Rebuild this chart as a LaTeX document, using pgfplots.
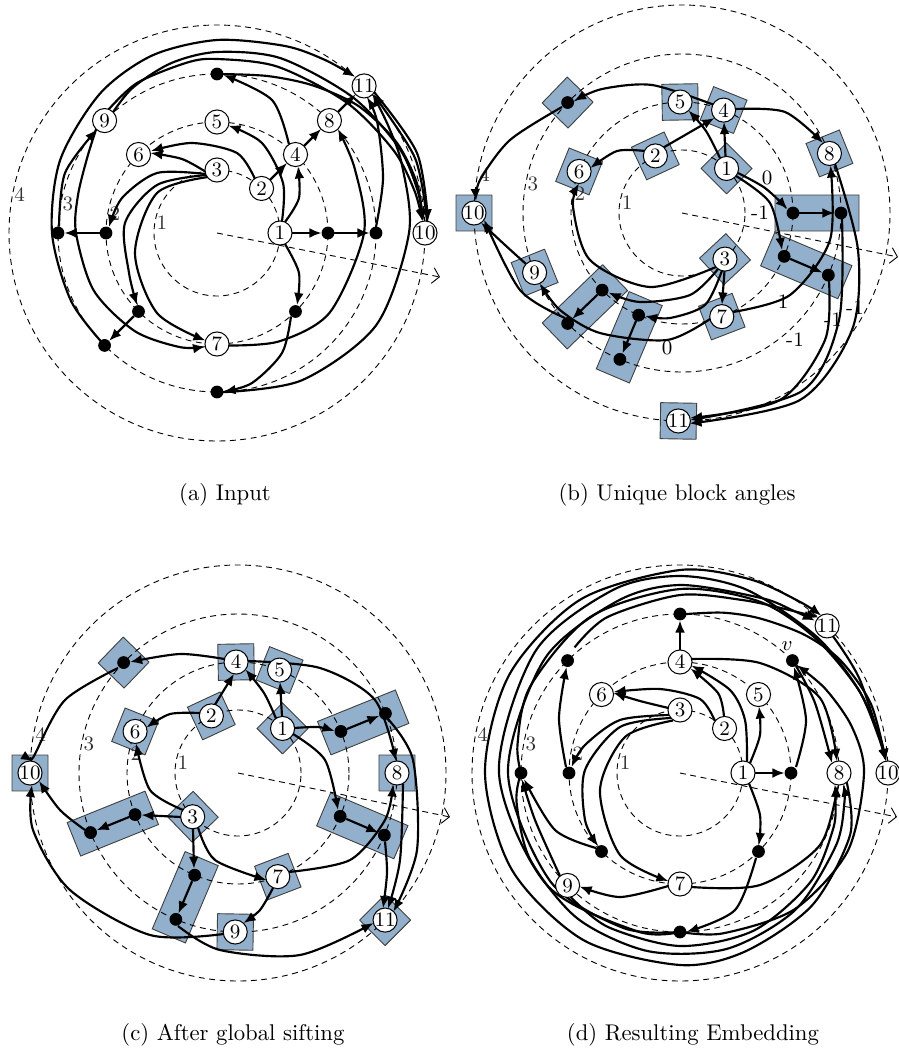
\documentclass[border=0pt]{standalone}
\usepackage{pgfplots}
\pgfplotsset{compat=1.18}
\usetikzlibrary{arrows.meta}
\definecolor{boxblue}{RGB}{146,176,203}
\tikzset{
  lbl/.style={font=\small, text=black!80, inner sep=0.5pt},
  elbl/.style={font=\small, inner sep=0.5pt},
  ring/.style={black, line width=0.4pt, dash pattern=on 2.6pt off 2pt},
}
\pgfplotsset{
  panel/.style={hide axis, x=0.44pt, y=0.44pt, clip=false, anchor=south west, enlargelimits=false},
  e/.style={black, smooth, line width=0.95pt, mark=none, -{Latex[length=5.3pt,width=4.3pt]}},
  ep/.style={e, data cs=polar},
  blk/.style={fill=boxblue, draw=black!75, line width=0.4pt, mark=none, data cs=polar},
  dots/.style={only marks, mark=*, mark size=2.6pt, black, data cs=polar},
  nds/.style={only marks, mark=*, mark size=5.3pt, mark options={draw=black, fill=white, line width=0.45pt}, data cs=polar, nodes near coords, point meta=explicit symbolic, every node near coord/.append style={anchor=center, inner sep=0pt, font=\small, text=black}},
}
\newcommand{\rings}[2]{%
  \draw[ring] (axis cs:0,0) circle[radius=63];
  \draw[ring] (axis cs:0,0) circle[radius=111];
  \draw[ring] (axis cs:0,0) circle[radius=159];
  \draw[ring] (axis cs:0,0) circle[radius=208];
  \addplot[ring, mark=none, -{Straight Barb[length=3pt,width=7pt]}] coordinates {(0,0) (#1,#2)};
  \node[lbl] at (axis cs:-55,10.7) {1};
  \node[lbl] at (axis cs:-102.1,19.8) {2};
  \node[lbl] at (axis cs:-149.2,29) {3};
  \node[lbl] at (axis cs:-197.3,38.4) {4};
}
\begin{document}
\begin{tikzpicture}
\useasboundingbox (0,0) rectangle (395.56pt,-463.32pt);

% ================= (a) =================
\begin{axis}[panel, at={(0pt,-206.8pt)}, xmin=-217, xmax=225, ymin=-237, ymax=233]
\rings{223}{-44}
\addplot[e] coordinates {(75,0) (104.5,0)};
\addplot[e] coordinates {(117,0) (152.5,0)};
\addplot[e] coordinates {(159,6) (166,55) (160,112) (150,135.5)};
\addplot[e] coordinates {(68,11) (82,35) (81,66.6)};
\addplot[e] coordinates {(68,-11) (82,-40) (80,-72)};
\addplot[e] coordinates {(65,11.8) (66,50) (45,90) (11.5,107.5)};
\addplot[e] coordinates {(53,53) (70,70)};
\addplot[e] coordinates {(38,54) (20,80) (-25,90) (-66,82)};
\addplot[e] coordinates {(-11,61) (-35,74) (-66.5,80)};
\addplot[e] coordinates {(72,88.5) (55,133) (6.5,158)};
\addplot[e] coordinates {(87,87) (104,104)};
\addplot[e] coordinates {(121,121) (138.6,138.6)};
\addplot[e] coordinates {(-11.5,59) (-60,60) (-95,35) (-108,6)};
\addplot[e] coordinates {(-11,58) (-60,48) (-92,10) (-88,-40) (-80,-72)};
\addplot[e] coordinates {(-9,56) (-60,40) (-82,-20) (-60,-80) (-11.5,-107.5)};
\addplot[e] coordinates {(-117,0) (-152.5,0)};
\addplot[e] coordinates {(-83,-83) (-107.8,-107.8)};
\addplot[e] coordinates {(-158,6.5) (-152,60) (-120,103.5)};
\addplot[ep] coordinates {(225,159) (205,161) (180,165) (155,173) (130,182) (110,189) (90,193) (70,199) (58,204) (48.5,208.5)};
\addplot[ep] coordinates {(139.3,159.4) (150,150) (165,144) (180,141) (205,136) (230,128) (252,120) (264,114.1)};
\addplot[ep] coordinates {(130.7,159.4) (120,168) (105,176) (90,181) (70,186) (45,192) (25,201) (12,205) (3.3,206.5)};
\addplot[ep] coordinates {(131.5,164.3) (118,170) (100,173) (90,174) (70,177) (45,184) (25,195) (12,202) (3.2,205.8)};
\addplot[ep] coordinates {(88,159) (72,165) (57,176) (42,190) (27,201) (14,206) (3.3,206.3)};
\addplot[ep] coordinates {(-88,159.3) (-60,170) (-30,184) (0,192) (20,197) (32,202) (41.7,208.4)};
\addplot[e] coordinates {(210,11.8) (198,75) (156,139)};
\addplot[e] coordinates {(157,141) (200,80) (211,11.6)};
\addplot[ep] coordinates {(-84,113.1) (-60,125) (-35,138) (0,147) (25,152) (40.7,159.4)};
\addplot[e] coordinates {(74,-83.5) (65,-120) (35,-150) (6.5,-158.5)};
\addplot[dots] coordinates {(90,159) (0,111) (0,159) (180,111) (180,159) (225,111) (225,159) (315,111) (270,159)};
\addplot[nds] table[x=a,y=r,meta=l] {
a r l
0 63 1
45 63 2
90 63 3
45 111 4
90 111 5
135 111 6
270 111 7
45 159 8
135 159 9
0 208 10
45 208 11
};
\end{axis}

% ================= (b) =================
\begin{axis}[panel, at={(198pt,-206.8pt)}, xmin=-232, xmax=217, ymin=-257, ymax=213]
\addplot[blk] coordinates {(23.2,48.47) (66.8,48.47) (57.53,82.98) (32.47,82.98) (23.2,48.47)};
\addplot[blk] coordinates {(93.2,48.47) (136.8,48.47) (127.53,82.98) (102.47,82.98) (93.2,48.47)};
\addplot[blk] coordinates {(-68.8,48.47) (-25.2,48.47) (-34.47,82.98) (-59.53,82.98) (-68.8,48.47)};
\addplot[blk] coordinates {(57.05,94.73) (78.95,94.73) (75.94,130.25) (60.06,130.25) (57.05,94.73)};
\addplot[blk] coordinates {(80.05,94.73) (101.95,94.73) (98.94,130.25) (83.06,130.25) (80.05,94.73)};
\addplot[blk] coordinates {(147.05,94.73) (168.95,94.73) (165.94,130.25) (150.06,130.25) (147.05,94.73)};
\addplot[blk] coordinates {(-79.95,94.73) (-58.05,94.73) (-61.06,130.25) (-76.94,130.25) (-79.95,94.73)};
\addplot[blk] coordinates {(14.73,142.14) (29.27,142.14) (27.81,177.91) (16.19,177.91) (14.73,142.14)};
\addplot[blk] coordinates {(194.73,142.14) (209.27,142.14) (207.81,177.91) (196.19,177.91) (194.73,142.14)};
\addplot[blk] coordinates {(174.59,190.85) (185.41,190.85) (184.55,226.72) (175.45,226.72) (174.59,190.85)};
\addplot[blk] coordinates {(263.59,190.85) (274.41,190.85) (273.55,226.72) (264.45,226.72) (263.59,190.85)};
\addplot[blk] coordinates {(128.73,142.14) (143.27,142.14) (141.81,177.91) (130.19,177.91) (128.73,142.14)};
\addplot[blk] coordinates {(-10.95,94.73) (10.95,94.73) (5.81,177.91) (-5.81,177.91) (-10.95,94.73)};
\addplot[blk] coordinates {(-33.95,94.73) (-12.05,94.73) (-17.19,177.91) (-28.81,177.91) (-33.95,94.73)};
\addplot[blk] coordinates {(213.05,94.73) (234.95,94.73) (229.81,177.91) (218.19,177.91) (213.05,94.73)};
\addplot[blk] coordinates {(236.05,94.73) (257.95,94.73) (252.81,177.91) (241.19,177.91) (236.05,94.73)};
\rings{216}{-44}
\addplot[e] coordinates {(43.5,56.5) (42,91)};
\addplot[e] coordinates {(38,55) (24,82) (6.5,102.5)};
\addplot[e] coordinates {(-18.5,65.5) (32.5,95)};
\addplot[e] coordinates {(-37,62) (-65,62) (-91.5,45)};
\addplot[e] coordinates {(31,108.5) (-30,128) (-80,124) (-108,112)};
\addplot[e] coordinates {(53.5,104) (103,101) (141,70)};
\addplot[e] coordinates {(56,40) (83,25) (105.5,4)};
\addplot[e] coordinates {(54,37) (88,10) (100,-37)};
\addplot[e] coordinates {(117,0) (152.5,0)};
\addplot[e] coordinates {(108.2,-45.9) (140.4,-59.6)};
\addplot[e] coordinates {(160,-6) (157,-107) (120,-178) (8.3,-207)};
\addplot[e] coordinates {(153,49) (176,-37) (170,-117) (118,-187) (7.5,-210.5)};
\addplot[e] coordinates {(147,-68) (143,-127) (98,-187) (8,-205)};
\addplot[e] coordinates {(51,-99) (108,-82) (148,-27) (148.5,47.5)};
\addplot[e] coordinates {(42.5,-58) (40,-91.5)};
\addplot[e] coordinates {(34,-54) (-32,-74) (-92,-47) (-109,6) (-103,29.6)};
\addplot[e] coordinates {(36,-56) (8,-82) (-42,-89) (-73.5,-79.5)};
\addplot[e] coordinates {(40,-57.5) (23,-92) (-12,-105) (-37,-103)};
\addplot[e] coordinates {(-84.5,-81.7) (-109.7,-105.8)};
\addplot[e] coordinates {(-46,-108) (-59.5,-140.4)};
\addplot[e] coordinates {(28,-106) (-15,-127) (-82,-120) (-122,-97) (-142,-70.5)};
\addplot[e] coordinates {(-117,-105) (-162,-77) (-198,-6.6)};
\addplot[e] coordinates {(-156,-51) (-177,-32) (-201,-9.6)};
\addplot[e] coordinates {(-120,106) (-172,73) (-202,33) (-206,12)};
\addplot[dots] coordinates {(136,159) (0,111) (0,159) (-23,111) (-23,159) (224,111) (224,159) (247,111) (247,159)};
\addplot[nds] table[x=a,y=r,meta=l] {
a r l
45 63 1
115 63 2
-47 63 3
68 111 4
91 111 5
158 111 6
-69 111 7
22 159 8
202 159 9
180 208 10
269 208 11
};
\node[elbl] at (axis cs:85,35) {0};
\node[elbl] at (axis cs:78,0) {-1};
\node[elbl] at (axis cs:101,-89) {1};
\node[elbl] at (axis cs:-15,-135) {0};
\node[elbl] at (axis cs:151,-107) {-1};
\node[elbl] at (axis cs:173,-95) {-1};
\node[elbl] at (axis cs:113,-127) {-1};
\end{axis}

% ================= (c) =================
\begin{axis}[panel, at={(0pt,-440pt)}, xmin=-238, xmax=212, ymin=-227, ymax=233]
\addplot[blk] coordinates {(23.2,48.47) (66.8,48.47) (57.53,82.98) (32.47,82.98) (23.2,48.47)};
\addplot[blk] coordinates {(93.2,48.47) (136.8,48.47) (127.53,82.98) (102.47,82.98) (93.2,48.47)};
\addplot[blk] coordinates {(202.2,48.47) (245.8,48.47) (236.53,82.98) (211.47,82.98) (202.2,48.47)};
\addplot[blk] coordinates {(80.05,94.73) (101.95,94.73) (98.94,130.25) (83.06,130.25) (80.05,94.73)};
\addplot[blk] coordinates {(57.05,94.73) (78.95,94.73) (75.94,130.25) (60.06,130.25) (57.05,94.73)};
\addplot[blk] coordinates {(147.05,94.73) (168.95,94.73) (165.94,130.25) (150.06,130.25) (147.05,94.73)};
\addplot[blk] coordinates {(-79.95,94.73) (-58.05,94.73) (-61.06,130.25) (-76.94,130.25) (-79.95,94.73)};
\addplot[blk] coordinates {(-7.27,142.14) (7.27,142.14) (5.81,177.91) (-5.81,177.91) (-7.27,142.14)};
\addplot[blk] coordinates {(261.73,142.14) (276.27,142.14) (274.81,177.91) (263.19,177.91) (261.73,142.14)};
\addplot[blk] coordinates {(174.59,190.85) (185.41,190.85) (184.55,226.72) (175.45,226.72) (174.59,190.85)};
\addplot[blk] coordinates {(-50.41,190.85) (-39.59,190.85) (-40.45,226.72) (-49.55,226.72) (-50.41,190.85)};
\addplot[blk] coordinates {(128.73,142.14) (143.27,142.14) (141.81,177.91) (130.19,177.91) (128.73,142.14)};
\addplot[blk] coordinates {(11.05,94.73) (32.95,94.73) (27.81,177.91) (16.19,177.91) (11.05,94.73)};
\addplot[blk] coordinates {(-33.95,94.73) (-12.05,94.73) (-17.19,177.91) (-28.81,177.91) (-33.95,94.73)};
\addplot[blk] coordinates {(191.05,94.73) (212.95,94.73) (207.81,177.91) (196.19,177.91) (191.05,94.73)};
\addplot[blk] coordinates {(236.05,94.73) (257.95,94.73) (252.81,177.91) (241.19,177.91) (236.05,94.73)};
\rings{212}{-44}
\addplot[e] coordinates {(44,56.5) (42,91)};
\addplot[e] coordinates {(38,54.5) (26,80) (7.5,103.5)};
\addplot[e] coordinates {(-23,68.5) (-4,99.2)};
\addplot[e] coordinates {(-38,60) (-68,59) (-91.5,45.5)};
\addplot[e] coordinates {(-13.5,114) (-58,119) (-107.9,111)};
\addplot[e] coordinates {(9.5,112) (82,105) (137,73) (158,12)};
\addplot[e] coordinates {(56.5,45) (80,46) (96.5,42)};
\addplot[e] coordinates {(108.9,44) (141.4,57.2)};
\addplot[e] coordinates {(55,39) (87,13) (100,-37)};
\addplot[e] coordinates {(108.2,-45.9) (140.4,-59.6)};
\addplot[e] coordinates {(51,-99) (112,-87) (147,-47) (155,-11.5)};
\addplot[e] coordinates {(-40,-54.5) (-23,-87) (28.5,-107)};
\addplot[e] coordinates {(-55,-37) (-88,-17) (-102,29.6)};
\addplot[e] coordinates {(-57,-44) (-96.5,-42)};
\addplot[e] coordinates {(-108.9,-44) (-141.4,-57.2)};
\addplot[e] coordinates {(-45,-55.8) (-44,-95.7)};
\addplot[e] coordinates {(-45.9,-108.2) (-59.6,-140.4)};
\addplot[e] coordinates {(35,-115) (22,-137) (5.5,-150)};
\addplot[e] coordinates {(-153,-57) (-178,-37) (-199,-8)};
\addplot[e] coordinates {(-14.5,-161) (-88,-162) (-168,-117) (-205,-57) (-206,-12)};
\addplot[e] coordinates {(-60,-153) (-18,-177) (62,-182) (135.5,-150)};
\addplot[e] coordinates {(-120,105) (-173,73) (-202,21) (-205,11.6)};
\addplot[e] coordinates {(150,54) (175,13) (179,-77) (155.5,-138.5)};
\addplot[e] coordinates {(165,-10.5) (162,-87) (150,-135.5)};
\addplot[e] coordinates {(147,-68.5) (149,-100) (145,-135.2)};
\addplot[dots] coordinates {(136,159) (22,111) (22,159) (-23,111) (-23,159) (202,111) (202,159) (247,111) (247,159)};
\addplot[nds] table[x=a,y=r,meta=l] {
a r l
45 63 1
115 63 2
224 63 3
91 111 4
68 111 5
158 111 6
-69 111 7
0 159 8
269 159 9
180 208 10
-45 208 11
};
\end{axis}

% ================= (d) =================
\begin{axis}[panel, at={(198pt,-440pt)}, xmin=-230, xmax=219, ymin=-227, ymax=233]
\rings{217}{-44}
\addplot[e] coordinates {(75,0) (104.5,0)};
\addplot[e] coordinates {(70,10) (80,38) (79,66.5)};
\addplot[e] coordinates {(67,11.3) (65,53) (50,83) (11.5,107.5)};
\addplot[e] coordinates {(44,56.5) (38,80) (10.5,104.5)};
\addplot[e] coordinates {(35,52) (20,74) (-20,84) (-66.5,81)};
\addplot[e] coordinates {(-11.5,65) (-40,72) (-66.5,80)};
\addplot[e] coordinates {(0,123) (0,152.5)};
\addplot[e] coordinates {(11.5,114) (80,110) (140,75) (157,12)};
\addplot[e] coordinates {(116,6) (126,53) (114,106)};
\addplot[e] coordinates {(116,107) (135,70) (152,10)};
\addplot[e] coordinates {(153,136.7) (180,93) (206.5,11.9)};
\addplot[e] coordinates {(69,-10.5) (80,-42) (79,-72)};
\addplot[e] coordinates {(76,-85) (55,-137) (6.5,-158.8)};
\addplot[e] coordinates {(11.5,-114) (80,-112) (140,-72) (157.5,-12)};
\addplot[e] coordinates {(-11.8,-113) (-60,-124) (-100.4,-113.5)};
\addplot[e] coordinates {(-11,58) (-60,53) (-95,28) (-108.5,6)};
\addplot[e] coordinates {(-9,55) (-60,46) (-95,3) (-95,-47) (-82,-73)};
\addplot[e] coordinates {(-7,52.5) (-55,36) (-80,-17) (-60,-82) (-11.6,-108)};
\addplot[e] coordinates {(-84,-75) (-125,-57) (-156,-6)};
\addplot[e] coordinates {(-114,6) (-121,55) (-113.5,105.9)};
\addplot[e] coordinates {(-120,-103) (-145,-47) (-158,-6.5)};
\addplot[ep] coordinates {(88,159) (75,166) (62.7,174) (48,186) (35.2,196) (20,203) (3.3,206.3)};
\addplot[ep] coordinates {(130,164) (115,172) (90,178) (70,184) (58,194) (52,202) (48.3,208.4)};
\addplot[ep] coordinates {(180,159) (170,165) (150,173) (120,180) (90,184) (65,189) (45,191) (25,197) (10,203) (3.3,206)};
\addplot[ep] coordinates {(-90,159) (-110,165) (-140,169) (-180,172) (-220,177) (-250,183) (-270,188) (-295,193) (-305,198) (-311.5,203.5)};
\addplot[ep] coordinates {(-90,159) (-105,164) (-140,174) (-180,181) (-220,189) (-250,195) (-270,197) (-290,195) (-315,193) (-335,197) (-350,202) (-356.7,206)};
\addplot[ep] coordinates {(-3.2,167) (-20,181) (-45,187) (-70,190) (-90,192) (-120,193) (-150,194) (-180,195) (-210,197) (-240,200) (-270,203) (-290,206) (-305,209) (-311.9,211.5)};
\addplot[ep] coordinates {(180,159) (190,166) (210,173) (235,178) (260,181) (285,182) (310,179) (335,172) (350,167) (356,163.5)};
\addplot[ep] coordinates {(228.6,165.3) (245,170) (270,173) (295,174) (320,170) (340,163) (350,158) (355.8,155.3)};
\addplot[ep] coordinates {(-90,159) (-75,166) (-50,178) (-25,185) (0,184) (15,178) (30,168) (42.7,159.1)};
\addplot[dots] coordinates {(90,159) (135,159) (45,159) (0,111) (180,111) (180,159) (225,111) (-45,111) (270,159)};
\addplot[nds] table[x=a,y=r,meta=l] {
a r l
0 63 1
45 63 2
90 63 3
90 111 4
45 111 5
135 111 6
270 111 7
0 159 8
225 159 9
0 208 10
45 208 11
};
\node[font=\small] at (axis cs:107,127) {$v$};
\end{axis}

\node at (99pt,-217.8pt) {(a) Input};
\node at (297.9pt,-217.8pt) {(b) Unique block angles};
\node at (102.5pt,-455.4pt) {(c) After global sifting};
\node at (304.9pt,-455.4pt) {(d) Resulting Embedding};
\end{tikzpicture}
\end{document}
